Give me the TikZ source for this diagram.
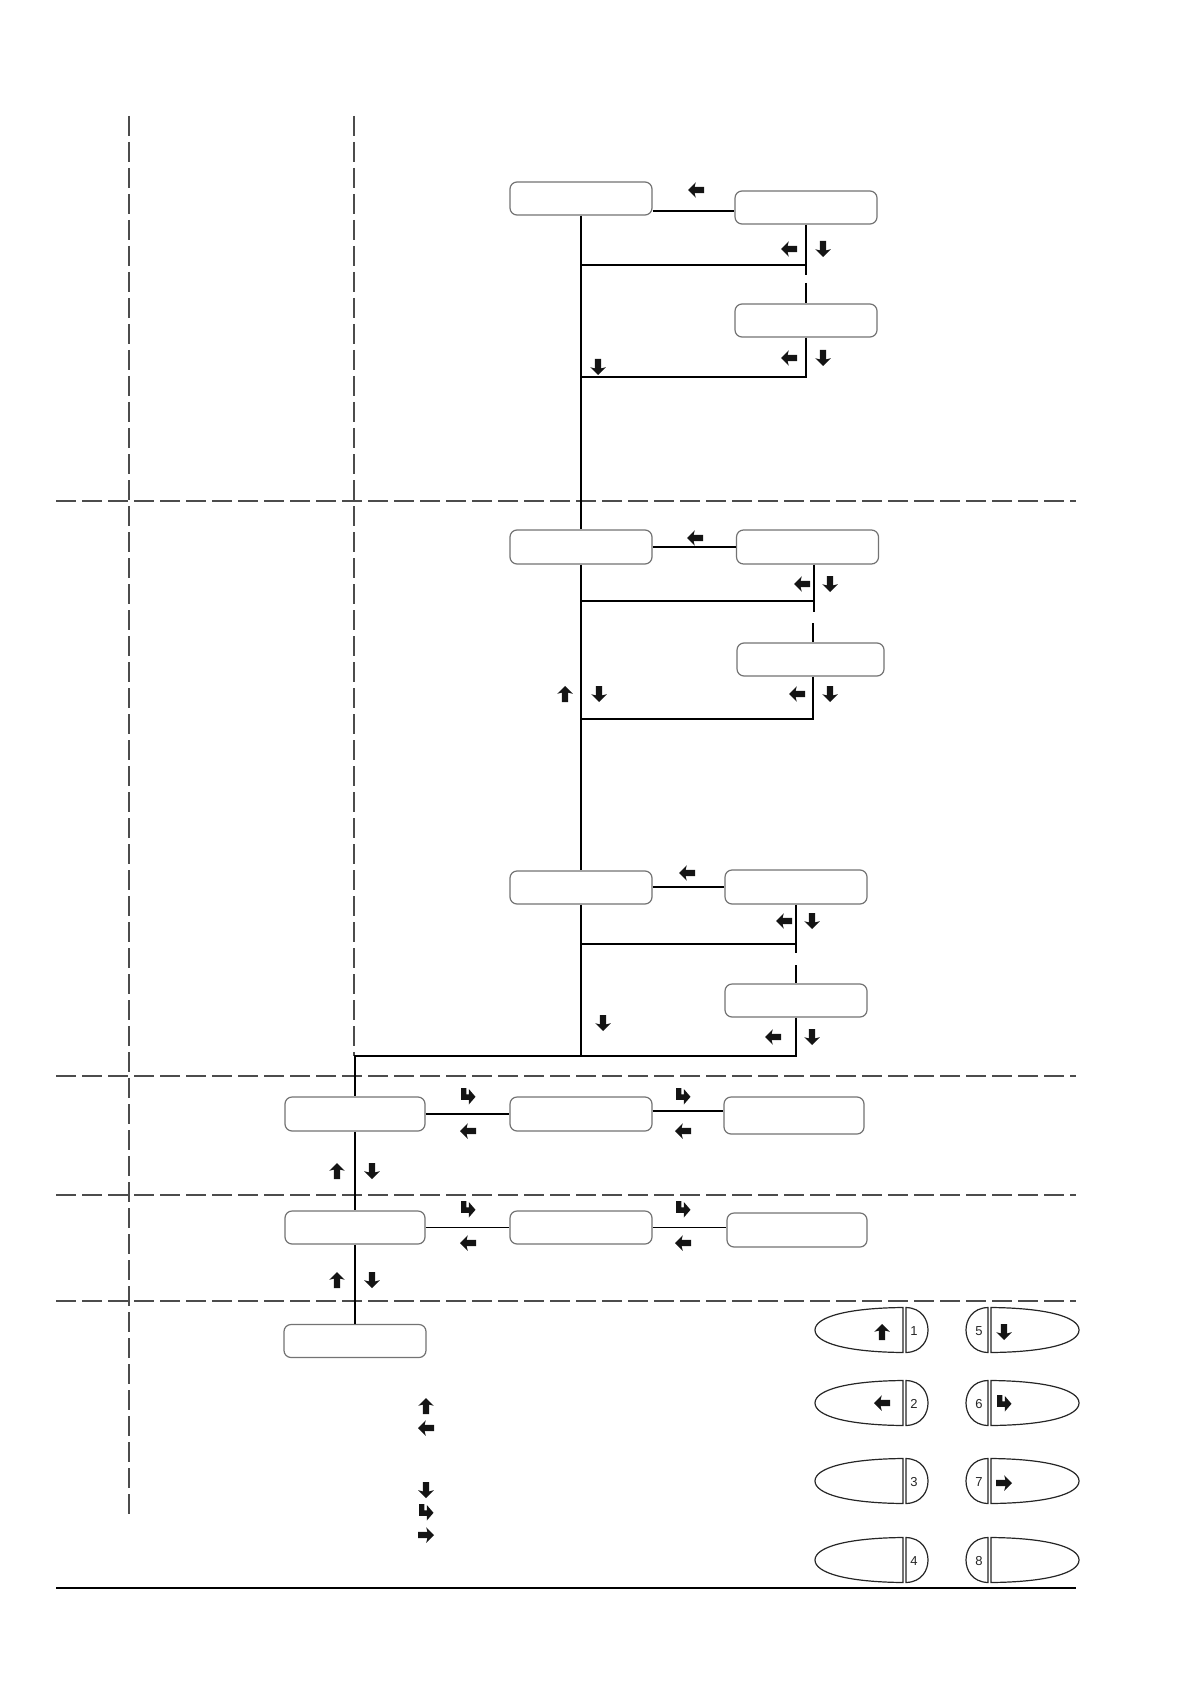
\documentclass[tikz,border=0pt]{standalone}
\usepackage{fontspec}
\setsansfont{Liberation Sans}
\usetikzlibrary{calc}
\tikzset{
  upg/.pic={\fill[black!92] (0,-8) -- (7.8,-0.2) -- (3.1,-1.4) -- (3.1,8) -- (-3.1,8) -- (-3.1,-1.4) -- (-7.8,-0.2) -- cycle;},
  retg/.pic={\fill[black!92] (-7,-8) -- (-1.6,-8) -- (-1.6,-1.6) -- (0.8,-1.6) -- (0.8,-7) -- (7.5,0.8) -- (0.8,8.5) -- (0.8,3.8) -- (-7,3.8) -- cycle;},
  lbtn/.pic={
    \draw[btnline] (44,-22.5) .. controls (-12,-22) and (-44,-13) .. (-44,0) .. controls (-44,13) and (-12,22) .. (44,22.5) -- cycle;
    \draw[btnline] (47,-22.5) .. controls (63,-22) and (69,-10) .. (69,0) .. controls (69,10) and (63,22) .. (47,22.5) -- cycle;},
  rbtn/.pic={
    \draw[btnline] (-44,-22.5) .. controls (12,-22) and (44,-13) .. (44,0) .. controls (44,13) and (12,22) .. (-44,22.5) -- cycle;
    \draw[btnline] (-47,-22.5) .. controls (-63,-22) and (-69,-10) .. (-69,0) .. controls (-69,10) and (-63,22) .. (-47,22.5) -- cycle;}
}
\begin{document}
\begin{tikzpicture}[x=0.5pt,y=-0.5pt,
  box/.style={draw=black!55, line width=0.6pt, rounded corners=3.5pt, minimum width=71pt, minimum height=16.5pt, inner sep=0pt, fill=white},
  wire/.style={line width=0.7pt, draw=black},
  sepline/.style={draw=black!70, line width=0.7pt, dash pattern=on 10pt off 3pt},
  btnline/.style={draw=black!85, line width=0.6pt, fill=white},
  num/.style={font=\sffamily\fontsize{6.5}{7}\selectfont, inner sep=0pt, text=black!85}]
\useasboundingbox (0,0) rectangle (1190,1684);

% separator lines
\draw[sepline] (56,501) -- (1076,501);
\draw[sepline] (56,1076) -- (1076,1076);
\draw[sepline] (56,1195) -- (1076,1195);
\draw[sepline] (56,1301) -- (1076,1301);
\draw[sepline] (129,116) -- (129,1514);
\draw[sepline] (354,116) -- (354,1056);
\draw[line width=0.7pt] (56,1588) -- (1076,1588);

% boxes
\node[box] (A1) at (581,198.5) {};
\node[box] (A2) at (806,207.5) {};
\node[box] (A3) at (806,320.5) {};
\node[box, minimum height=17pt] (B1) at (581,547) {};
\node[box, minimum height=17pt] (B2) at (807.5,547) {};
\node[box, minimum width=73.5pt] (B3) at (810.5,659.5) {};
\node[box] (C1) at (581,887.5) {};
\node[box, minimum height=17pt] (C2) at (796,887) {};
\node[box] (C3) at (796,1000.5) {};
\node[box, minimum width=70pt, minimum height=17pt] (D1) at (355,1114) {};
\node[box, minimum height=17pt] (D2) at (581,1114) {};
\node[box, minimum width=70pt, minimum height=18.5pt] (D3) at (794,1115.5) {};
\node[box, minimum width=70pt] (E1) at (355,1227.5) {};
\node[box] (E2) at (581,1227.5) {};
\node[box, minimum width=70pt, minimum height=17pt] (E3) at (797,1230) {};
\node[box] (F1) at (355,1341) {};

% helper coordinates
\coordinate (ya) at (0,211);
\coordinate (a2j) at (806,265);
\coordinate (a2b) at (806,275);
\coordinate (a3t) at (806,283);
\coordinate (a3j) at (806,377);
\coordinate (b2x) at (814,0);
\coordinate (b2j) at (814,601);
\coordinate (b2b) at (814,612);
\coordinate (b3t) at (813,623);
\coordinate (b3x) at (813,0);
\coordinate (b3j) at (813,719);
\coordinate (c2j) at (796,944);
\coordinate (c2b) at (796,953);
\coordinate (c3t) at (796,965);
\coordinate (cR) at (796,1056);
\coordinate (cM) at (581,1056);
\coordinate (cL) at (355,1056);
\coordinate (yd) at (0,1111);

% main spine
\draw[wire] (A1.south) -- (B1.north);
\draw[wire] (B1.south) -- (C1.north);
\draw[wire] (C1.south) -- (cM);

% section A
\draw[wire] (A1.east |- ya) -- (A2.west |- ya);
\draw[wire] (A2.south) -- (a2b);
\draw[wire] (a3t) -- (A3.north);
\draw[wire] (A1.south |- a2j) -- (a2j);
\draw[wire] (A3.south) -- (a3j) -- (A1.south |- a3j);

% section B
\draw[wire] (B1.east) -- (B2.west);
\draw[wire] (B2.south -| b2x) -- (b2b);
\draw[wire] (B1.south |- b2j) -- (b2j);
\draw[wire] (b3t) -- (B3.north -| b3x);
\draw[wire] (B3.south -| b3x) -- (b3j) -- (B1.south |- b3j);

% section C
\draw[wire] (C1.east |- C2.west) -- (C2.west);
\draw[wire] (C2.south) -- (c2b);
\draw[wire] (C1.south |- c2j) -- (c2j);
\draw[wire] (c3t) -- (C3.north);
\draw[wire] (C3.south) -- (cR) -- (cL) -- (D1.north);

% lower sections
\draw[wire] (D1.east) -- (D2.west);
\draw[wire] (D2.east |- yd) -- (D3.west |- yd);
\draw[wire] (D1.south) -- (E1.north);
\draw[wire] (E1.east) -- (E2.west);
\draw[wire] (E2.east) -- (E3.west |- E2.east);
\draw[wire] (E1.south) -- (F1.north);

% arrow glyphs: section A
\pic[rotate=90] at (696,190) {upg};
\pic[rotate=90] at (789,249) {upg};
\pic[rotate=180] at (823,249) {upg};
\pic[rotate=90] at (789,358) {upg};
\pic[rotate=180] at (823,358) {upg};
\pic[rotate=180] at (598,367) {upg};
% section B
\pic[rotate=90] at (695,538) {upg};
\pic[rotate=90] at (802,584) {upg};
\pic[rotate=180] at (830,584) {upg};
\pic[rotate=90] at (797,694) {upg};
\pic[rotate=180] at (830,694) {upg};
\pic at (565,694) {upg};
\pic[rotate=180] at (599,694) {upg};
% section C
\pic[rotate=90] at (687,873) {upg};
\pic[rotate=90] at (784,921) {upg};
\pic[rotate=180] at (812,921) {upg};
\pic[rotate=90] at (773,1037) {upg};
\pic[rotate=180] at (812,1037) {upg};
\pic[rotate=180] at (603,1023) {upg};
% section D
\pic at (468,1096) {retg};
\pic[rotate=90] at (468,1131) {upg};
\pic at (683,1096) {retg};
\pic[rotate=90] at (683,1131) {upg};
\pic at (337,1171) {upg};
\pic[rotate=180] at (372,1171) {upg};
% section E
\pic at (468,1209) {retg};
\pic[rotate=90] at (468,1243) {upg};
\pic at (683,1209) {retg};
\pic[rotate=90] at (683,1243) {upg};
\pic at (337,1280) {upg};
\pic[rotate=180] at (372,1280) {upg};
% legend
\pic at (426,1406) {upg};
\pic[rotate=90] at (426,1428) {upg};
\pic[rotate=180] at (426,1490) {upg};
\pic at (426,1512) {retg};
\pic[rotate=-90] at (426,1535) {upg};

% buttons
\pic at (859,1330) {lbtn};
\pic at (859,1403) {lbtn};
\pic at (859,1481) {lbtn};
\pic at (859,1560) {lbtn};
\pic at (1035,1330) {rbtn};
\pic at (1035,1403) {rbtn};
\pic at (1035,1481) {rbtn};
\pic at (1035,1560) {rbtn};
\node[num] (n1) at (914,1331) {1};
\node[num] (n2) at (914,1404) {2};
\node[num] (n3) at (914,1482) {3};
\node[num] (n4) at (914,1561) {4};
\node[num] (n5) at (979,1331) {5};
\node[num] (n6) at (979,1404) {6};
\node[num] (n7) at (979,1482) {7};
\node[num] (n8) at (979,1561) {8};
\pic at (882,1332) {upg};
\pic[rotate=90] at (882,1403) {upg};
\pic[rotate=180] at (1004,1332) {upg};
\pic at (1004,1403) {retg};
\pic[rotate=-90] at (1004,1483) {upg};
\end{tikzpicture}
\end{document}
